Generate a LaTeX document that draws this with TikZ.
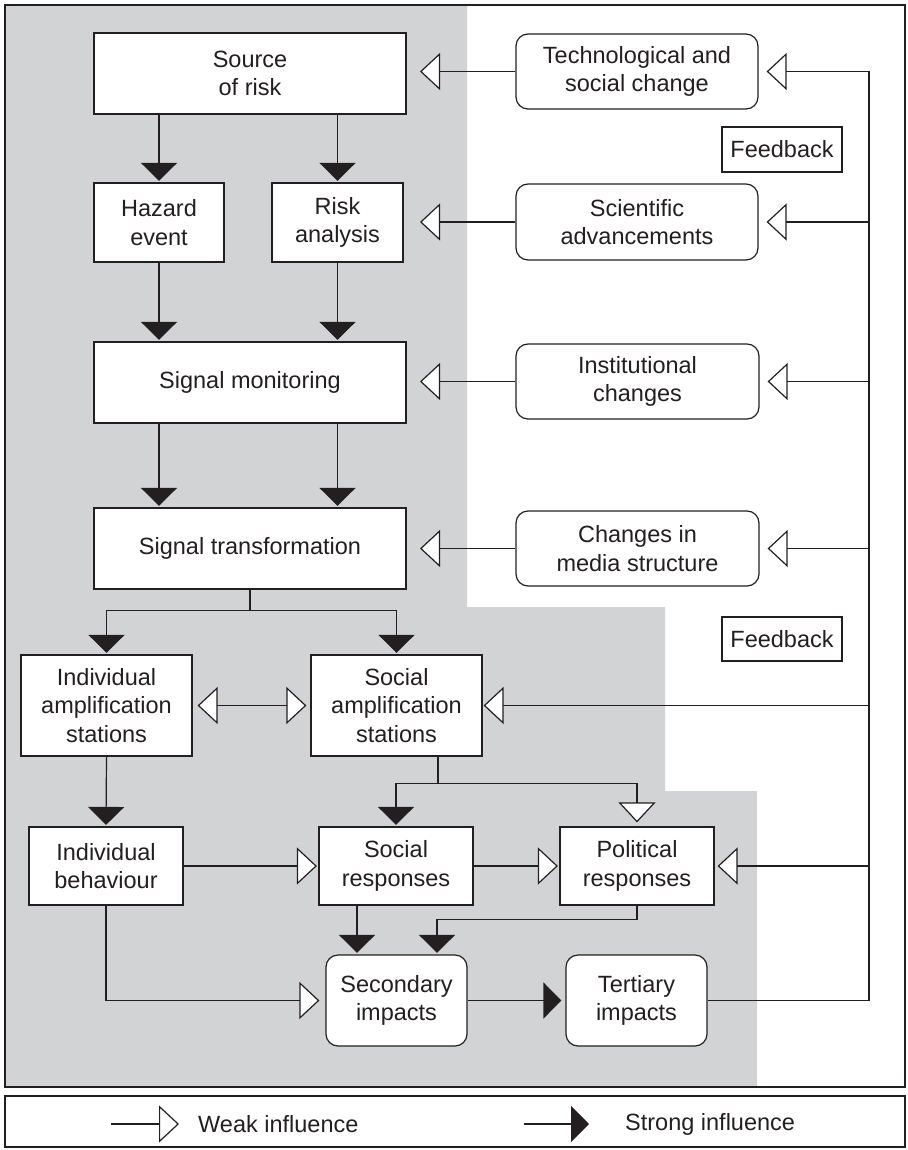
\documentclass[tikz,border=0pt]{standalone}
\usepackage{fontspec}
\setmainfont{Liberation Sans}
\usetikzlibrary{arrows.meta}
\definecolor{ink}{RGB}{35,31,32}
\definecolor{zonegray}{RGB}{209,211,212}
\begin{document}
\begin{tikzpicture}[x=1pt,y=-1pt,
  every node/.style={font=\fontsize{23.5}{28.5}\selectfont, text=ink, align=center, inner sep=0pt},
  box/.style={draw=ink, line width=1.2pt, fill=white},
  rbox/.style={box, rounded corners=12pt},
  conn/.style={draw=ink, line width=1.2pt},
  strong/.style={conn, -{Triangle[length=18pt,width=36pt]}, shorten >=1.5pt},
  weak/.style={conn, -{Triangle[length=20pt,width=37pt,fill=white]}, shorten >=1.5pt},
  weakboth/.style={conn, {Triangle[length=20pt,width=37pt,fill=white]}-{Triangle[length=20pt,width=37pt,fill=white]}, shorten <=5pt, shorten >=4pt}
]
\useasboundingbox (0,0) rectangle (907,1150);

% shaded zone and frames
\fill[zonegray] (5,5) -- (467,5) -- (467,607) -- (665,607) -- (665,791) -- (757,791) -- (757,1087) -- (5,1087) -- cycle;
\draw[ink, line width=2.5pt] (5,5) rectangle (905,1087);
\draw[ink, line width=2.5pt] (5,1096) rectangle (905,1147);

% main chain
\node[box, minimum width=312, minimum height=81] (src) at (250,73.5) {Source\\of risk};
\node[box, minimum width=130, minimum height=79] (haz) at (159,222.5) {Hazard\\event};
\node[box, minimum width=131, minimum height=79] (ana) at (337.5,222.5) {Risk\\analysis};
\node[box, minimum width=312, minimum height=81] (mon) at (250,382.5) {Signal monitoring};
\node[box, minimum width=312, minimum height=81] (trans) at (250,548.5) {Signal transformation};
\node[box, minimum width=171, minimum height=101] (iamp) at (106.5,705.5) {Individual\\amplification\\stations};
\node[box, minimum width=171, minimum height=101] (samp) at (396.5,705.5) {Social\\amplification\\stations};
\node[box, minimum width=154, minimum height=78] (ibeh) at (106,866) {Individual\\behaviour};
\node[box, minimum width=154, minimum height=78] (sresp) at (396,866) {Social\\responses};
\node[box, minimum width=154, minimum height=78] (presp) at (637,866) {Political\\responses};
\node[rbox, minimum width=141, minimum height=91] (sec) at (396.5,1000.5) {Secondary\\impacts};
\node[rbox, minimum width=141, minimum height=91] (ter) at (636.5,1000.5) {Tertiary\\impacts};

% external influences
\node[rbox, minimum width=242, minimum height=75] (tech) at (637,71.5) {Technological and\\social change};
\node[rbox, minimum width=242, minimum height=76] (sci) at (637,222) {Scientific\\advancements};
\node[rbox, minimum width=243, minimum height=75] (inst) at (637.5,381.5) {Institutional\\changes};
\node[rbox, minimum width=243, minimum height=75] (media) at (637.5,548.5) {Changes in\\media structure};
\node[box, minimum width=120, minimum height=45] (fb1) at (782,149.5) {Feedback};
\node[box, minimum width=120, minimum height=44] (fb2) at (782,639) {Feedback};

% strong links down the chain
\draw[strong] (haz.north |- src.south) -- (haz.north);
\draw[strong] (ana.north |- src.south) -- (ana.north);
\draw[strong] (haz.south) -- (haz.south |- mon.north);
\draw[strong] (ana.south) -- (ana.south |- mon.north);
\draw[strong] (haz.south |- mon.south) -- (haz.south |- trans.north);
\draw[strong] (ana.south |- mon.south) -- (ana.south |- trans.north);
\draw[strong] (trans.south) -- ++(0,21) -| (iamp.north);
\draw[strong] (trans.south) -- ++(0,21) -| (samp.north);
\draw[weakboth] (iamp.east) -- (samp.west);
\coordinate (sj) at ([xshift=41.5]samp.south);
\draw[strong] (sj) -- ++(0,27) -| (sresp.north);
\draw[weak, shorten >=4pt] (sj) -- ++(0,27) -| (presp.north);
\draw[strong] (iamp.south) -- (ibeh.north);
\draw[weak] (ibeh.east) -- (sresp.west);
\draw[weak] (sresp.east) -- (presp.west);
\coordinate (sr) at ([xshift=-39]sresp.south);
\draw[strong] (sr) -- (sr |- sec.north);
\draw[strong] (presp.south) -- ++(0,14) -| ([xshift=40.5]sec.north);
\draw[weak, shorten >=6pt] (ibeh.south) |- (sec.west);
\draw[strong, shorten >=4pt] (sec.east) -- (ter.west);

% influences onto the chain
\coordinate (lt) at (420,0);
\foreach \a in {tech, sci, inst, media}
  \draw[weak, shorten >=0pt] (\a.west) -- (\a.west -| lt);

% feedback loop
\coordinate (fbx) at (869,0);
\draw[conn] (ter.east) -- (ter.east -| fbx) -- (fbx |- tech.east);
\foreach \n/\g in {tech/8, sci/8, inst/8, media/8, samp/1, presp/3}
  \draw[weak, shorten >=\g pt] (fbx |- \n.east) -- (\n.east);

% legend
\node[anchor=west] (wk) at (198,1124) {Weak influence};
\node[anchor=west] (st) at (625,1124) {Strong influence};
\coordinate (wa) at (111,1124);
\coordinate (sa) at (524,1124);
\draw[weak, shorten >=19pt] (wa) -- (wk.west);
\draw[strong, shorten >=36pt] (sa) -- (st.west);
\end{tikzpicture}
\end{document}
